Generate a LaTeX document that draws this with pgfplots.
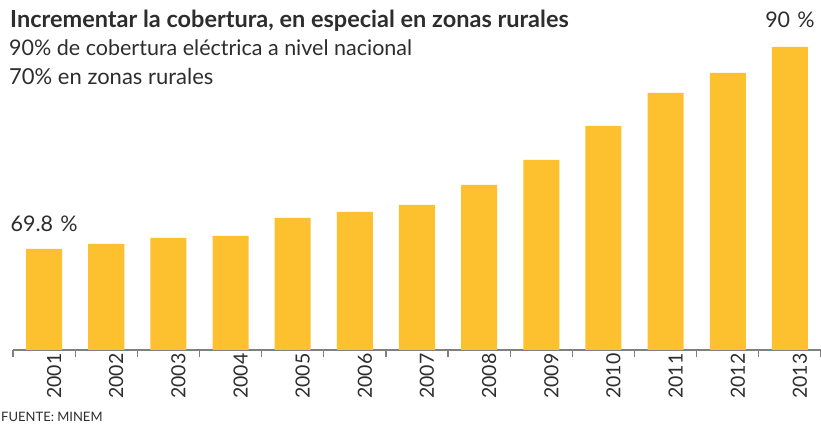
\documentclass[border=0pt]{standalone}
\usepackage{pgfplots}
\pgfplotsset{compat=1.18}
\usepackage{fontspec}
\setmainfont{Lato}
\definecolor{barc}{RGB}{253,192,47}
\definecolor{txt}{RGB}{45,45,45}
\definecolor{axc}{RGB}{128,128,128}
\begin{document}
\begin{tikzpicture}[x=1pt,y=1pt]
\path[use as bounding box] (0,0) rectangle (821,425);
\begin{axis}[
  at={(13pt,75pt)}, anchor=south west,
  scale only axis, width=808pt, height=350pt,
  xmin=-0.5, xmax=12.5, ymin=59.7, ymax=94.7,
  axis y line=none, axis x line*=bottom,
  x axis line style={draw=axc, line width=1.6pt, -},
  xtick={0,...,12},
  xticklabels={2001,2002,2003,2004,2005,2006,2007,2008,2009,2010,2011,2012,2013},
  major tick length=0pt,
  minor xtick={-0.5,0.5,...,12.5},
  minor tick length=7pt,
  tick align=outside,
  minor tick style={draw=axc, line width=1.2pt},
  xticklabel style={rotate=90, anchor=east, font=\fontsize{19.5}{19.5}\selectfont, text=txt, yshift=-10pt},
  clip=false,
]
\addplot[ybar, bar width=0.58, fill=barc, draw=none] coordinates {
(0,69.8) (1,70.3) (2,70.9) (3,71.1) (4,72.9) (5,73.5) (6,74.2) (7,76.2) (8,78.7) (9,82.1) (10,85.4) (11,87.4) (12,90.0)};
\node[anchor=base, text=txt, font=\fontsize{21.5}{21.5}\selectfont] at (axis cs:0,69.8) [yshift=17pt] {69.8\,\,\%};
\node[anchor=base, text=txt, font=\fontsize{21.5}{21.5}\selectfont] at (axis cs:12,90) [yshift=19pt] {90\,\,\%};
\end{axis}
\node[anchor=base west, text=txt, font=\bfseries\fontsize{23.5}{23.5}\selectfont, inner sep=0] at (10,397) {Incrementar la cobertura, en especial en zonas rurales};
\node[anchor=base west, text=txt, font=\fontsize{21.5}{21.5}\selectfont, inner sep=0] at (9,369) {90\% de cobertura eléctrica a nivel nacional};
\node[anchor=base west, text=txt, font=\fontsize{22}{22}\selectfont, inner sep=0] at (9,340) {70\% en zonas rurales};
\node[anchor=base west, text=txt, font=\fontsize{13}{13}\selectfont, inner sep=0] at (1,3) {FUENTE: MINEM};
\end{tikzpicture}
\end{document}
